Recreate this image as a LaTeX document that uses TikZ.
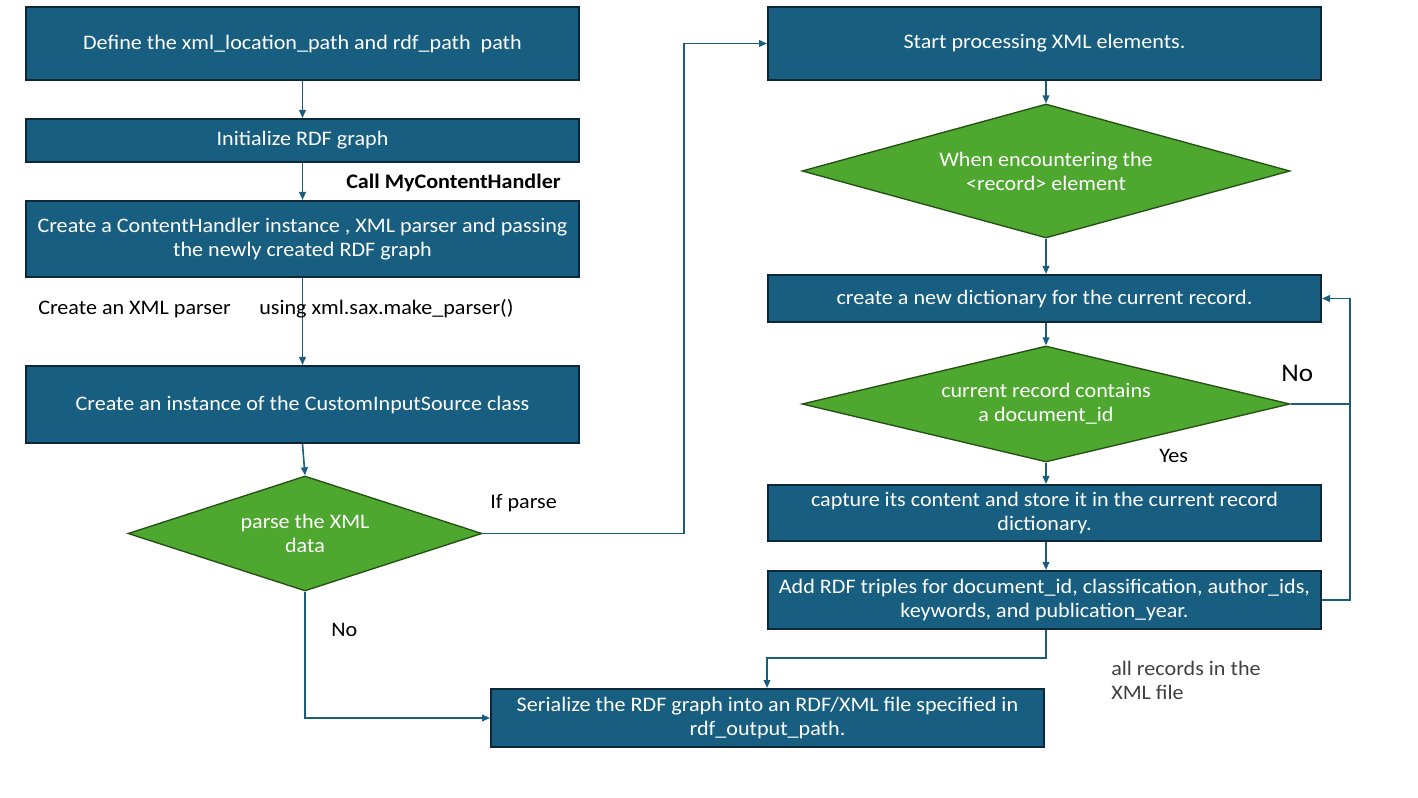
\documentclass[tikz,border=0pt]{standalone}
\usepackage{tikz}
\usetikzlibrary{shapes}
\usetikzlibrary{arrows.meta}
\usepackage{fontspec}
\setmainfont{Carlito}[FakeStretch=1.07]

\begin{document}
\begin{tikzpicture}[x=0.75pt,y=0.75pt,yscale=-1,xscale=1,
  procbox/.style={draw={rgb, 255:red, 12; green, 38; blue, 58 }, line width=1.5pt, fill={rgb, 255:red, 23; green, 94; blue, 128 }, text=white, align=center, inner sep=0pt, minimum width=414.75pt, font=\fontsize{15.5}{18}\selectfont},
  decide/.style={diamond, draw={rgb, 255:red, 36; green, 80; blue, 20 }, line width=1pt, fill={rgb, 255:red, 78; green, 167; blue, 46 }, text=white, align=center, inner sep=0pt, font=\fontsize{15.5}{18}\selectfont},
  link/.style={draw={rgb, 255:red, 23; green, 94; blue, 128 }, line width=1.2pt},
  flow/.style={link, -{Triangle[length=6pt,width=5pt]}},
  note/.style={anchor=west, inner sep=0.75pt, font=\fontsize{15.5}{18}\selectfont}]
\useasboundingbox (0,0) rectangle (1418,798);

%Shape: Rectangle [id:box1]
\node (box1) [procbox, minimum height=54.75pt] at (302.5,43.5) {Define the xml\_location\_path and rdf\_path~ path};
%Shape: Rectangle [id:box2]
\node (box2) [procbox, minimum height=32.25pt] at (302.5,140.5) {Initialize RDF graph};
%Shape: Rectangle [id:box3]
\node (box3) [procbox, minimum height=57pt] at (302.5,239) {Create a ContentHandler instance , XML parser and passing\\the newly created RDF graph};
%Shape: Rectangle [id:box4]
\node (box4) [procbox, minimum height=57.75pt] at (302.5,404.5) {Create an instance of the CustomInputSource class};
%Shape: Diamond [id:parse]
\node (parse) [decide, aspect=3.08, minimum width=265.5pt, minimum height=86.25pt] at (305,533.5) {parse the XML\\data};

%Shape: Rectangle [id:box5]
\node (box5) [procbox, minimum height=54.75pt] at (1044.5,43.5) {Start processing XML elements.};
%Shape: Diamond [id:record]
\node (record) [decide, aspect=3.64, minimum width=366pt, minimum height=100.5pt] at (1046,171) {When encountering the\\<record> element};
%Shape: Rectangle [id:box6]
\node (box6) [procbox, minimum height=35.25pt] at (1044.5,298.5) {create a new dictionary for the current record.};
%Shape: Diamond [id:docid]
\node (docid) [decide, aspect=4.2, minimum width=366pt, minimum height=87pt] at (1046,404) {current record contains\\a document\_id};
%Shape: Rectangle [id:box7]
\node (box7) [procbox, minimum height=42pt] at (1044.5,513) {capture its content and store it in the current record\\dictionary.};
%Shape: Rectangle [id:box8]
\node (box8) [procbox, minimum height=43.5pt] at (1044.5,600) {Add RDF triples for document\_id, classification, author\_ids,\\keywords, and publication\_year.};
%Shape: Rectangle [id:box9]
\node (box9) [procbox, minimum height=43.5pt] at (767.5,718) {Serialize the RDF graph into an RDF/XML file specified in\\rdf\_output\_path.};

%Bends
\coordinate (jparse) at (684,533.5);
\coordinate (jloop) at (1350,404);
\coordinate (jall) at (1046,658);

%Straight Lines
\draw [flow] (box1) -- (box2);
\draw [flow] (box2) -- (box3);
\draw [flow] (box3) -- (box4);
\draw [flow] (box4.south) -- (parse.north);
\draw [flow] (parse.east) -- (jparse) |- (box5.west);
\draw [flow] (parse.south) |- (box9.west);
\draw [flow] (box5.south -| record.north) -- (record.north);
\draw [flow] (record) -- (box6.north -| record.south);
\draw [flow] (box6.south -| docid.north) -- (docid.north);
\draw [flow] (docid.south) -- (box7.north -| docid.south);
\draw [flow] (box7.south -| docid.south) -- (box8.north -| docid.south);
\draw [link] (docid.east) -- (jloop);
\draw [flow] (box8.east) -| (jloop) |- (box6.east);
\draw [flow] (box8.south -| jall) -- (jall) -| (box9.north -| box8.west);

% Text Node
\node (call) [note, font=\fontsize{15.5}{18}\selectfont\bfseries] at (345,183) {Call MyContentHandler};
% Text Node
\node (mkparser) [note] at (37,309) {Create an XML parser};
% Text Node
\node (using) [note] at (258,309) {using xml.sax.make\_parser()};
% Text Node
\node (ifparse) [note] at (489,503) {If parse};
% Text Node
\node (nobottom) [note] at (330,630) {No};
% Text Node
\node (noright) [note, font=\fontsize{19}{22}\selectfont] at (1280,373) {No};
% Text Node
\node (yes) [note] at (1158,456) {Yes};
% Text Node
\node (allrec) [note, align=left, text={rgb, 255:red, 64; green, 64; blue, 64 }] at (1110,680) {all records in the\\XML file};

\end{tikzpicture}
\end{document}
